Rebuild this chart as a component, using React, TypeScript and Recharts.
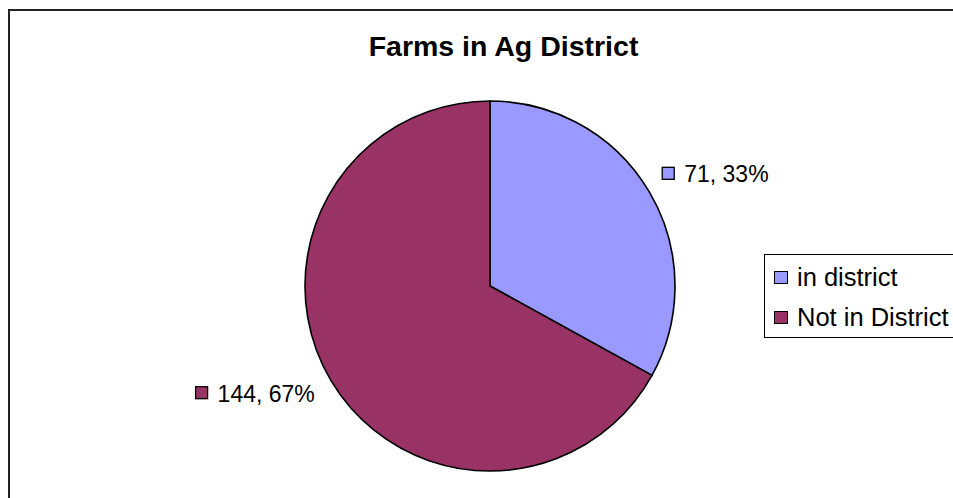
import React from 'react';
import { PieChart, Pie, Cell, Legend } from 'recharts';

const categories = ['in district', 'Not in District'];
const farmCounts = [71, 144];
const sliceColors = ['#9999FF', '#993366'];

const TITLE = 'Farms in Ag District';
const FONT = '"Liberation Sans", Arial, sans-serif';
const LABEL_SIZE = 23;

const pieData = categories.map((name, i) => ({ name, value: farmCounts[i] }));

// Arial advance widths (em) for the characters used in the labels
const CHAR_W: Record<string, number> = { ',': 0.278, ' ': 0.278, '%': 0.889 };
function textWidth(s: string, size: number) {
  let w = 0;
  for (const ch of s) w += CHAR_W[ch] ?? 0.556;
  return w * size;
}

const RAD = Math.PI / 180;

function renderLabel(props: any) {
  const { cx, cy, midAngle, outerRadius, value, percent, index } = props;
  const r = outerRadius + 15;
  const cos = Math.cos(-midAngle * RAD);
  const sin = Math.sin(-midAngle * RAD);
  const x = cx + r * cos;
  const y = cy + r * sin;
  const text = `${value}, ${Math.round(percent * 100)}%`;
  const tw = textWidth(text, LABEL_SIZE);
  const total = 22 + tw;
  const left = cos >= 0 ? x : x - 3 - total;
  const baseline = sin <= 0 ? y - 2 : y + 14;
  return (
    <g key={`lbl-${index}`}>
      <rect
        x={left}
        y={baseline - 15}
        width={12}
        height={12}
        fill={sliceColors[index]}
        stroke="#000"
        strokeWidth={1.3}
      />
      <text x={left + 22} y={baseline} fontFamily={FONT} fontSize={LABEL_SIZE} fill="#000">
        {text}
      </text>
    </g>
  );
}

function LegendBox(props: any) {
  const payload = [...(props.payload || [])].sort(
    (a: any, b: any) => categories.indexOf(a.value) - categories.indexOf(b.value)
  );
  return (
    <div
      style={{
        border: '1.5px solid #000',
        width: 210,
        height: 84,
        boxSizing: 'border-box',
        padding: '2px 0 0 9px',
        background: '#fff',
      }}
    >
      {payload.map((p: any) => {
        const i = categories.indexOf(p.value);
        return (
          <div
            key={p.value}
            style={{
              display: 'flex',
              alignItems: 'center',
              height: 40,
              fontFamily: FONT,
              fontSize: 25.5,
              color: '#000',
              whiteSpace: 'nowrap',
            }}
          >
            <span
              style={{
                display: 'inline-block',
                width: 12,
                height: 11,
                background: sliceColors[i],
                border: '1.3px solid #000',
                marginRight: 9,
              }}
            />
            {p.value}
          </div>
        );
      })}
    </div>
  );
}

export default function App() {
  return (
    <div
      style={{
        position: 'absolute',
        left: 0,
        top: 0,
        width: 953,
        height: 498,
        overflow: 'hidden',
        background: '#fff',
      }}
    >
      <div
        style={{
          position: 'absolute',
          left: 8,
          top: 9,
          width: 1000,
          height: 600,
          border: '2px solid #222',
        }}
      />
      <div
        style={{
          position: 'absolute',
          left: 0,
          top: 30,
          width: 1007,
          textAlign: 'center',
          fontFamily: FONT,
          fontWeight: 'bold',
          fontSize: 28.5,
          color: '#000',
        }}
      >
        {TITLE}
      </div>
      <div style={{ position: 'absolute', left: 0, top: 0 }}>
        <PieChart width={953} height={498} margin={{ top: 0, right: 0, bottom: 0, left: 0 }}>
          <Pie
            data={pieData}
            dataKey="value"
            nameKey="name"
            cx={490}
            cy={286}
            outerRadius={185}
            startAngle={90}
            endAngle={-270}
            stroke="#000"
            strokeWidth={1.6}
            label={renderLabel}
            labelLine={false}
            isAnimationActive={false}
          >
            {pieData.map((d, i) => (
              <Cell key={d.name} fill={sliceColors[i]} />
            ))}
          </Pie>
          <Legend
            layout="vertical"
            content={<LegendBox />}
            wrapperStyle={{ position: 'absolute', left: 764, top: 254, width: 210 }}
          />
        </PieChart>
      </div>
    </div>
  );
}
